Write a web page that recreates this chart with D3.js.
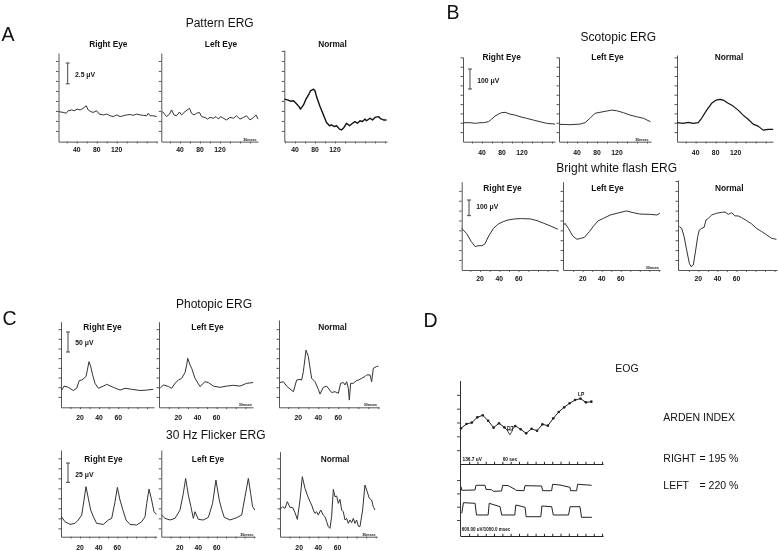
<!DOCTYPE html>
<html><head><meta charset="utf-8">
<script src="https://cdn.jsdelivr.net/npm/d3@7"></script>
<style>body{margin:0;background:#fff}svg{display:block;will-change:transform}text{font-family:"Liberation Sans",Arial,sans-serif}</style>
</head><body><svg id="c" width="778" height="551"></svg>
<script>
// ---------------- DATA ----------------
const eyeTitles = ["Right Eye", "Left Eye", "Normal"];
const patternLabels = [40, 80, 120];
const scotopicLabels = [40, 80, 120];
const flashLabels = [20, 40, 60];

// Pattern ERG (ms, µV)
const patternRight = [[4,3.6],[13,3.5],[19,3.4],[23,3.7],[30,3.8],[35,3.7],[41,3.9],[47,3.8],[53,4.0],[59,4.3],[63,3.8],[68,3.6],[73,3.5],[80,3.7],[85,3.3],[93,3.2],[100,3.3],[107,3.1],[113,3.0],[120,3.2],[127,3.0],[133,3.1],[140,3.2],[147,3.25],[153,3.15],[160,3.3],[167,3.2],[173,3.15],[180,3.1],[183,3.4],[187,3.1],[193,3.1],[200,3.0]];
const patternLeft = [[4,3.6],[8,3.4],[13,3.0],[19,3.3],[23,3.8],[28,3.2],[33,3.1],[39,3.55],[43,3.2],[50,3.6],[59,4.0],[63,3.4],[68,3.2],[73,3.4],[79,3.5],[83,3.0],[90,2.9],[95,2.7],[100,2.9],[107,2.8],[112,3.0],[117,2.7],[121,3.0],[127,2.8],[133,2.6],[140,2.9],[147,2.8],[153,3.1],[160,2.7],[167,2.9],[173,3.1],[180,2.6],[187,2.9],[192,3.2],[196,2.7]];
const patternNormal = [[19,5.1],[25,5.0],[31,4.85],[37,4.9],[42,4.6],[48,4.2],[51,3.9],[57,4.4],[62,5.1],[67,5.6],[71,6.1],[77,6.3],[80,6.1],[83,5.4],[90,4.2],[97,3.2],[103,2.3],[109,1.9],[113,2.0],[119,1.8],[123,1.9],[129,1.5],[133,1.4],[138,1.7],[143,2.2],[149,1.9],[155,2.2],[160,2.4],[165,2.2],[170,2.5],[175,2.4],[180,2.7],[183,2.5],[190,2.8],[195,2.6],[200,2.9],[207,3.0],[211,2.75],[217,2.6],[223,2.6]];

// Scotopic ERG (ms, µV)
const scotopicRight = [[3,95],[16,95],[22,93],[29,92],[36,95],[43,95],[53,100],[59,112],[66,128],[73,138],[79,145],[86,147],[96,138],[106,133],[116,125],[129,117],[143,108],[156,100],[169,92],[186,88]];
const scotopicLeft = [[5,87],[26,85],[46,88],[56,95],[66,117],[76,142],[86,147],[99,153],[109,158],[119,155],[133,145],[146,133],[159,125],[173,117],[187,100]];
const scotopicNormal = [[3,95],[15,92],[25,97],[35,92],[45,95],[52,117],[62,158],[72,192],[81,208],[89,212],[95,208],[105,192],[115,178],[125,158],[135,133],[145,112],[155,88],[165,78],[175,58],[185,62],[195,62]];

// Bright white flash ERG (ms, µV)
const brightRight = [[1,266],[6,234],[11,181],[15,149],[18,155],[22,155],[25,166],[29,217],[34,266],[39,294],[44,309],[49,319],[56,326],[63,328],[72,326],[79,315],[86,298],[93,281],[100.5,260]];
const brightLeft = [[0,287],[1.4,298],[5,266],[9.5,217],[14,196],[18,202],[22,209],[27,245],[31,277],[36,313],[42,330],[49,351],[56,362],[66,377],[73,366],[80,357],[91,355],[98,351],[101,362]];
const brightNormal = [[0,277],[2.5,266],[5,213],[7.7,128],[10.5,43],[12.3,21],[14.7,32],[17.2,128],[19.3,213],[21,255],[23.5,266],[26,272],[28,319],[30.5,330],[34,351],[39,362],[44.5,368],[48,370],[51.5,355],[55,366],[58.5,345],[62,345],[65.5,334],[70.7,315],[76,294],[81,266],[86.5,245],[92,223],[97,202],[102,196]];

// Photopic ERG (ms, µV)
const photopicRight = [[1,43],[3.3,53],[7.8,50],[13,42],[16.5,47.5],[19.3,67],[21.8,68],[24.2,72.5],[26.3,77],[27.7,93],[29.4,114],[31.1,103],[33.2,81],[35.7,60],[39.2,47.5],[44.4,53],[47.9,57.5],[54.8,50],[61.8,43],[67,47.5],[74,45],[82.7,42],[89.6,43],[96.6,45]];
const photopicLeft = [[1,47.5],[4.4,56],[9.6,52],[13,47.5],[16.5,60],[20,68],[23.5,72.5],[27,87],[28.7,106],[29.8,122.5],[32.2,106],[33.9,97.5],[37.4,72.5],[42.6,52],[47.9,64],[51.3,62],[56.5,53],[63.5,50],[70.5,53],[77.4,55],[84.4,53],[91.4,60],[98,62]];
const photopicNormal = [[1.7,62],[5,64],[8.3,53],[15,39],[18.3,68],[21.7,70],[23.3,68],[25,89],[27.7,143],[30,127],[33.3,72.5],[36.7,64],[40,45],[41.7,33],[45,50],[48.3,53],[53.3,37],[56.7,39],[60,35],[62.3,60],[65,62],[66.7,56],[68.3,64],[70,47.5],[71,18],[72.3,60],[75,60],[78.3,67],[80,68],[83.3,72.5],[86.7,77],[88.3,81],[91.7,81],[93.3,64],[95,97.5],[98.3,102],[100,103]];

// 30 Hz flicker ERG (ms, µV)
const flickerRight = [[0,26],[3.9,19.4],[9.3,15.9],[14.6,17.2],[18.2,21.6],[21.8,28],[24.3,47.4],[26.4,64.7],[28.9,49.6],[31.4,34.5],[34.3,25.9],[37.8,17.2],[45,15.9],[50.3,21.6],[53.9,23.7],[57.5,45.3],[60,63.8],[62.8,47.4],[65.7,35.3],[69.3,21.6],[73.5,15.9],[80.7,15.1],[86,19.4],[89.6,25.9],[91.4,43.1],[93.9,61.6],[96.7,47.4],[99.2,32.3],[102,28.9]];
const flickerLeft = [[0.4,28],[4,23.7],[9.4,21.6],[14.8,23.7],[20.2,34.5],[23.8,56],[26.3,75.4],[29.2,53.9],[32,38.8],[34.6,23.7],[36.4,32.3],[40,22.4],[45.4,21.6],[50.8,25],[55.4,43.1],[59,73.3],[62.6,47.4],[65.2,35.3],[68,25],[74.2,21.6],[81.4,24.6],[86.8,28],[90.4,51.7],[94,75.4],[96.5,56],[98.6,38.8],[101,34.5]];
const flickerNormal = [[0,35.3],[2.8,38.8],[5.2,36.6],[7.7,45.3],[10.4,37.9],[13.2,37.9],[15.7,31],[18.1,22.4],[20.9,47.4],[23.3,77.6],[26.1,62.5],[28.5,53.9],[31.3,45.3],[33.1,40.9],[34.8,34.5],[36.5,30.2],[38.3,32.3],[40,28],[42.5,34.5],[45.2,28],[47,25.9],[48.7,19.4],[50.5,12.9],[52.2,10.8],[53.9,25.9],[55.7,61.2],[57.4,51.7],[59.2,52.6],[60.9,43.1],[62.6,48.3],[64.4,34.5],[66.1,32.3],[67.9,21.6],[69.6,23.7],[71.3,17.2],[73.1,21.6],[74.8,18.1],[76.6,23.7],[78.3,17.2],[80,21.6],[81.8,13.8],[83.5,12.9],[86.3,34.5],[88.7,66.8],[90.5,60.3],[93.3,49.6],[95.7,47.4],[97.4,38.8],[99.2,34.5]];

// EOG (minute index, µV)
const eogMinutes = [0,1,2,3,4,5,6,7,8,9,10,11,12,13,14,15,16,17,18,19,20,21,22,23,24];
const eogValues = [353,395,409,461,481,428,359,402,362,310,376,343,303,349,329,392,379,451,514,560,600,632,646,609,616];
const eogTroughIndex = 9, eogPeakIndex = 22;
const squareUpper = [[0,2230],[0.15,2059],[2.58,2072],[2.76,2284],[4.42,2284],[4.6,2104],[5.64,2086],[5.95,2014],[7.48,2027],[7.67,2284],[8.71,2266],[9.94,2104],[10.1,2059],[11.6,2041],[11.78,2266],[14.85,2252],[15.03,2041],[16.69,2041],[16.87,2329],[18.22,2297],[20.06,2194],[20.18,2041],[21.29,2041],[21.47,2329],[24.05,2284]];
const squareLower = [[0.15,1022],[0.45,1500],[2.6,1473],[2.85,946],[5.0,946],[5.2,1473],[7.2,1320],[7.5,946],[9.9,946],[10.1,1396],[11.8,1293],[12.0,869],[14.7,869],[14.9,1351],[16.7,1320],[17.0,946],[19.8,946],[20.1,1320],[21.9,1320],[22.2,842],[24.1,842]];
const ardenRight = 195, ardenLeft = 220;

// ---------------- DRAW ----------------
const svg = d3.select("#c");
svg.append("rect").attr("width",778).attr("height",551).attr("fill","#fff");
const AX = "#555", TR = "#333";

function txt(x, y, s, size, opt = {}) {
  return svg.append("text").attr("x", x).attr("y", y).text(s)
    .attr("font-size", size).attr("font-weight", opt.bold ? "bold" : "normal")
    .attr("text-anchor", opt.anchor || "start").attr("fill", opt.fill || "#111");
}

function plot(c) {
  const g = svg.append("g");
  const x = d3.scaleLinear().domain(c.xDomain).range([c.x0, c.x1]);
  const yMax = (c.bottom - c.top) / c.k;
  const y = d3.scaleLinear().domain([0, yMax]).range([c.bottom, c.top]);
  g.append("g").attr("transform", `translate(${c.x0},0)`)
    .call(d3.axisLeft(y).tickValues(d3.range(c.yTick0, yMax, c.yStep)).tickSize(2.5).tickSizeOuter(0).tickFormat(""))
    .call(a => a.selectAll("path,line").attr("stroke", AX));
  g.append("g").attr("transform", `translate(0,${c.bottom})`)
    .call(d3.axisBottom(x).tickValues(d3.range(Math.ceil(c.xDomain[0] / c.xStep) * c.xStep || c.xStep, c.xDomain[1], c.xStep)).tickSize(1.8).tickSizeOuter(0).tickFormat(""))
    .call(a => a.selectAll("path,line").attr("stroke", AX));
  g.selectAll("text.tl").data(c.labels).join("text").attr("class", "tl")
    .attr("x", d => x(d)).attr("y", c.bottom + c.labelDy).text(d => d)
    .attr("font-size", 6.8).attr("font-weight", "bold").attr("text-anchor", "middle").attr("fill", "#111");
  g.append("path").datum(c.data)
    .attr("d", d3.line().x(d => x(d[0])).y(d => y(d[1])))
    .attr("fill", "none").attr("stroke", c.color || TR).attr("stroke-width", c.sw || 1).attr("stroke-linejoin", "round");
  txt(c.title[0], c.title[1], c.titleText, 8.3, { bold: true, anchor: "middle" });
  if (c.bar) {
    const h = y(0) - y(c.bar.value);
    const b = c.bar;
    g.append("path").attr("d", `M${b.x - 2},${b.top}H${b.x + 2}M${b.x},${b.top}V${b.top + h}M${b.x - 2},${b.top + h}H${b.x + 2}`)
      .attr("stroke", "#444").attr("stroke-width", 1).attr("fill", "none");
    txt(b.x + 7.3, b.ly, b.label, 6.8, { bold: true });
  }
  if (c.tag) txt(c.tag[0], c.tag[1], "30msec", 3.6, { bold: true, anchor: "end" });
}

// group definitions
const groups = [
  { k: 8.333, bottom: 141.6, yTick0: 1.28, yStep: 1.2, xStep: 20, labels: patternLabels, labelDy: 10.7,
    plots: [
      { x0: 58.5, x1: 157, top: 53, xDomain: [3.6, 200.6], data: patternRight, title: [108.3, 46.5],
        bar: { x: 67.7, top: 63, value: 2.5, label: "2.5 μV", ly: 76.7 } },
      { x0: 161.3, x1: 258, top: 53, xDomain: [2.6, 196], data: patternLeft, title: [221, 46.5], tag: [256.5, 140.8] },
      { x0: 284.3, x1: 387, top: 50, xDomain: [18.6, 224], data: patternNormal, title: [332.5, 46.5], sw: 1.4, color: "#111" }] },
  { k: 0.2, bottom: 141.7, yTick0: 48, yStep: 46.7, xStep: 20, labels: scotopicLabels, labelDy: 13.3,
    plots: [
      { x0: 463, x1: 555, top: 57, xDomain: [2, 186], data: scotopicRight, title: [501.7, 59.5],
        bar: { x: 470, top: 69, value: 100, label: "100 μV", ly: 82.5 } },
      { x0: 559, x1: 651, top: 57, xDomain: [4, 188], data: scotopicLeft, title: [607.5, 59.5], tag: [648.5, 140.8] },
      { x0: 677, x1: 773, top: 55, xDomain: [2.7, 194.7], data: scotopicNormal, title: [729, 59.5], sw: 1.2, color: "#111" }] },
  { k: 0.1567, bottom: 270, yTick0: 64, yStep: 63, xStep: 10, labels: flashLabels, labelDy: 11.3,
    plots: [
      { x0: 461.7, x1: 558, top: 181.7, xDomain: [1.07, 100.7], data: brightRight, title: [502.5, 190.5],
        bar: { x: 469, top: 200, value: 100, label: "100 μV", ly: 208.5 } },
      { x0: 563, x1: 660, top: 181.7, xDomain: [-0.7, 101.2], data: brightLeft, title: [607.5, 190.5], tag: [659, 268.8] },
      { x0: 678, x1: 777, top: 180, xDomain: [-1.4, 102.6], data: brightNormal, title: [729.2, 190.5] }] },
  { k: 0.4, bottom: 407.3, yTick0: 26, yStep: 24.2, xStep: 10, labels: flashLabels, labelDy: 12.7,
    plots: [
      { x0: 61, x1: 154, top: 321.7, xDomain: [0.18, 97.3], data: photopicRight, title: [102.5, 330],
        bar: { x: 68, top: 332, value: 50, label: "50 μV", ly: 345 } },
      { x0: 159, x1: 253, top: 321.7, xDomain: [-0.2, 98], data: photopicLeft, title: [207.5, 330], tag: [252, 406] },
      { x0: 279, x1: 379, top: 320, xDomain: [0.67, 100.67], data: photopicNormal, title: [332.5, 330], tag: [377, 406] }] },
  { k: 0.7733, bottom: 536.7, yTick0: 10.8, yStep: 12.93, xStep: 10, labels: flashLabels, labelDy: 13.3,
    plots: [
      { x0: 61, x1: 156.7, top: 450, xDomain: [-0.35, 102.1], data: flickerRight, title: [103.5, 461.5],
        bar: { x: 68, top: 463, value: 25, label: "25 μV", ly: 476.5 } },
      { x0: 161.3, x1: 255, top: 450, xDomain: [0, 101.2], data: flickerLeft, title: [208, 461.5], tag: [253.5, 535.5] },
      { x0: 280, x1: 377, top: 451.7, xDomain: [0, 101.3], data: flickerNormal, title: [335, 461.5], tag: [375.5, 535.5] }] }
];
groups.forEach(G => G.plots.forEach((p, i) => plot(Object.assign({}, G, p, { titleText: eyeTitles[i] }))));

// group titles & letters
[["Pattern ERG", 219.7, 27.3], ["Scotopic ERG", 618.3, 40.6], ["Bright white flash ERG", 616.7, 172],
 ["Photopic ERG", 214, 307.5], ["30 Hz Flicker ERG", 215.8, 438.6]].forEach(t => txt(t[1], t[2], t[0], 12, { anchor: "middle" }));
[["A", 1.5, 41], ["B", 446.5, 18.5], ["C", 2.5, 325], ["D", 423.5, 327.3]].forEach(t => txt(t[1], t[2], t[0], 19.5));

// ---------------- EOG ----------------
{
  const x0 = 460, x1 = 603, top = 381, mid = 464, bot = 536;
  const x = d3.scaleLinear().domain([-0.18, 26.15]).range([x0, x1]);
  const yU = d3.scaleLinear().domain([0, (mid - top) / 0.1012]).range([mid, top]);
  const yL = d3.scaleLinear().domain([0, (bot - mid) / 0.0222]).range([bot, mid]);
  const g = svg.append("g");
  g.append("line").attr("x1", x0 + 0.5).attr("x2", x0 + 0.5).attr("y1", top).attr("y2", bot).attr("stroke", "#333");
  g.append("g").attr("transform", `translate(${x0},0)`)
    .call(d3.axisLeft(yU).tickValues([136.7, 273.4, 410.1, 546.8, 683.5]).tickSize(3).tickSizeOuter(0).tickFormat(""))
    .call(a => { a.select(".domain").remove(); a.selectAll("line").attr("stroke", "#444"); });
  g.append("g").attr("transform", `translate(${x0},0)`)
    .call(d3.axisLeft(yL).tickValues([720, 1320, 1920, 2520]).tickSize(3).tickSizeOuter(0).tickFormat(""))
    .call(a => { a.select(".domain").remove(); a.selectAll("line").attr("stroke", "#444"); });
  [mid, bot].forEach(yy => {
    g.append("g").attr("transform", `translate(0,${yy})`)
      .call(d3.axisTop(x).tickValues(d3.range(1.5, 26, 1.53)).tickSize(2.2).tickSizeOuter(0).tickFormat(""))
      .call(a => a.selectAll("path,line").attr("stroke", "#222"));
  });
  const pts = eogMinutes.map((m, i) => [m, eogValues[i]]);
  g.append("path").datum(pts).attr("d", d3.line().x(d => x(d[0])).y(d => yU(d[1])))
    .attr("fill", "none").attr("stroke", "#222").attr("stroke-width", 1);
  g.selectAll("circle.p").data(pts.filter((d, i) => i !== eogTroughIndex)).join("circle")
    .attr("cx", d => x(d[0])).attr("cy", d => yU(d[1])).attr("r", 1.3).attr("fill", "#222");
  const tr = pts[eogTroughIndex];
  g.append("path").attr("d", d3.symbol(d3.symbolTriangle, 14)())
    .attr("transform", `translate(${x(tr[0])},${yU(tr[1]) - 1}) rotate(180)`).attr("fill", "#fff").attr("stroke", "#222").attr("stroke-width", 0.8);
  const pk = pts[eogPeakIndex];
  txt(x(tr[0]) + 0.5, yU(tr[1]) - 2.5, "DT", 5, { bold: true, anchor: "middle" });
  txt(x(pk[0]) + 0.8, yU(pk[1]) - 2.8, "LP", 5, { bold: true, anchor: "middle" });
  [squareUpper, squareLower].forEach(s => g.append("path").datum(s)
    .attr("d", d3.line().x(d => x(d[0])).y(d => yL(d[1]))).attr("fill", "none").attr("stroke", "#222").attr("stroke-width", 1));
  txt(462.5, 460.7, "136.7 uV", 4.8, { bold: true });
  txt(502.7, 460.7, "60 sec", 4.8, { bold: true });
  txt(461.7, 531, "600.00 uV/1000.0 msec", 4.5, { bold: true });
  txt(627, 371.7, "EOG", 10.5, { anchor: "middle" });
  txt(663.3, 420.7, "ARDEN INDEX", 10.5);
  txt(663.3, 462.3, "RIGHT", 10.5); txt(699.5, 462.3, `= ${ardenRight} %`, 10.5);
  txt(663.3, 489, "LEFT", 10.5); txt(699.5, 489, `= ${ardenLeft} %`, 10.5);
}
</script></body></html>
